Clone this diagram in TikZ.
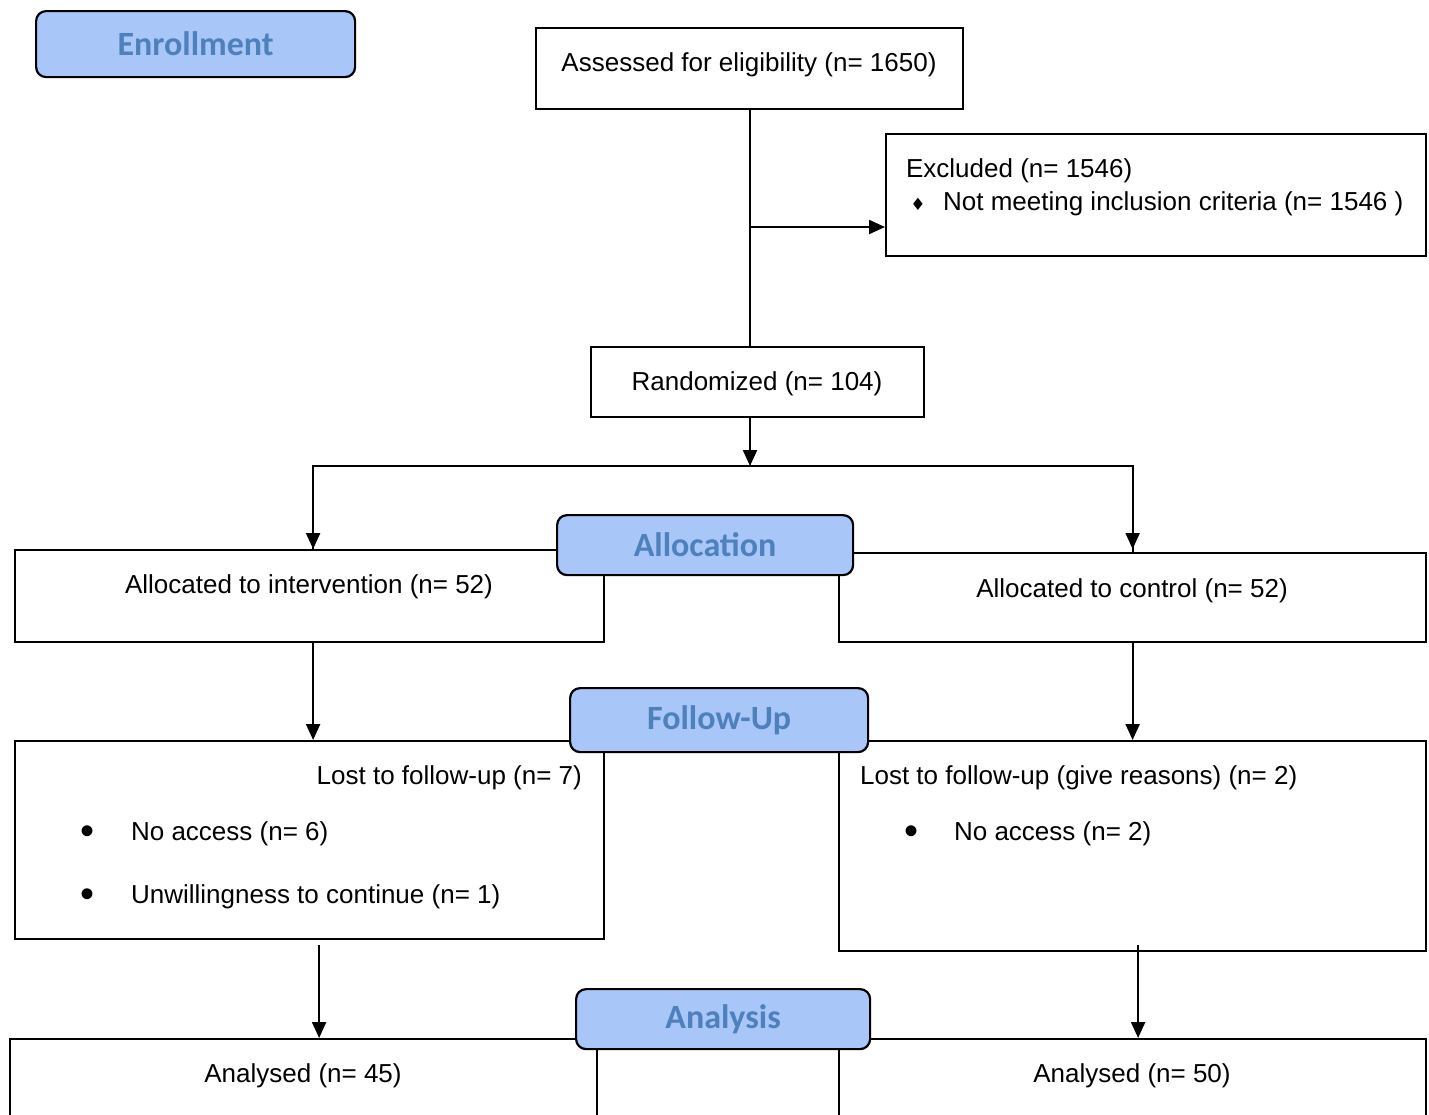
\documentclass[tikz,border=0pt]{standalone}
\usepackage{fontspec}
\setmainfont{Liberation Sans}
\newfontfamily\labelfont{Carlito}
\newfontfamily\symfont{DejaVu Sans}
\usetikzlibrary{arrows.meta}
\definecolor{lblfill}{HTML}{A8C6F8}
\definecolor{lbltext}{HTML}{4E80BC}
\newcommand{\lowered}[1]{\raisebox{-2pt}{#1}}
\begin{document}
\begin{tikzpicture}[x=1pt,y=-1pt,line width=2.2pt,
  box/.style={draw,rectangle,anchor=north west,inner sep=0pt},
  stage/.style={draw,fill=lblfill,rounded corners=10pt,anchor=north west,inner sep=0pt,
    text=lbltext,font=\labelfont\bfseries\fontsize{34}{40}\selectfont},
  txt/.style={font=\fontsize{26}{30}\selectfont,inner sep=0pt},
  bul/.style={font=\fontsize{40}{40}\selectfont,inner sep=0pt},
  arr/.style={-{Triangle[length=16pt,width=14pt]}}]
\useasboundingbox (0,0) rectangle (1429,1114);
\clip (0,0) rectangle (1429,1114);
% boxes
\node[box,minimum width=427pt,minimum height=81pt] (assess) at (535,27) {};
\node[box,minimum width=540pt,minimum height=122pt] (excl) at (885,133) {};
\node[box,minimum width=333pt,minimum height=70pt] (rand) at (590,346) {};
\node[box,minimum width=589pt,minimum height=92pt] (allocI) at (14,549) {};
\node[box,minimum width=587pt,minimum height=89pt] (allocC) at (838,552) {};
\node[box,minimum width=589pt,minimum height=198pt] (lostI) at (14,740) {};
\node[box,minimum width=587pt,minimum height=210pt] (lostC) at (838,740) {};
\node[box,minimum width=587pt,minimum height=120pt] (anaI) at (9,1038) {};
\node[box,minimum width=587pt,minimum height=120pt] (anaC) at (838,1038) {};
% texts
\node[txt] (tassess) at (749,65) {Assessed for eligibility (n= 1650)};
\node[txt,anchor=west] (texcl) at (905,171) {Excluded (n= 1546)};
\node[inner sep=0pt] (dexcl) at (918,204) {\symfont\fontsize{17}{17}\selectfont ♦};
\node[txt,anchor=west] (texcl2) at (942,204) {Not meeting inclusion criteria (n= 1546 )};
\node[txt] (trand) at (757,384) {Randomized (n= 104)};
\node[txt] (tallocI) at (309,587) {Allocated to intervention (n= 52)};
\node[txt] (tallocC) at (1132,591) {Allocated to control (n= 52)};
\node[txt,anchor=east] (tlostI) at (583,778) {Lost to follow-up (n= 7)};
\node[bul] (b1) at (88,835) {•};
\node[txt,anchor=west] (tb1) at (130,834) {No access (n= 6)};
\node[bul] (b2) at (88,898) {•};
\node[txt,anchor=west] (tb2) at (130,897) {Unwillingness to continue (n= 1)};
\node[txt,anchor=west] (tlostC) at (859,778) {Lost to follow-up (give reasons) (n= 2)};
\node[bul] (b3) at (911,835) {•};
\node[txt,anchor=west] (tb3) at (953,834) {No access (n= 2)};
\node[txt] (tanaI) at (303,1076) {Analysed (n= 45)};
\node[txt] (tanaC) at (1132,1076) {Analysed (n= 50)};
% connectors
\coordinate (br) at (750,227);
\coordinate (split) at (750,466);
\draw (assess.south -| br) -- (br |- rand.north);
\draw[arr] (br) -- (br -| excl.west);
\draw[arr] (br |- rand.south) -- (split);
\draw (split) -| ([xshift=3.5pt]allocI.north);
\draw (split) -| (allocC.north);
\draw[arr] ([xshift=3.5pt]allocI.north |- split) -- ([xshift=3.5pt]allocI.north);
\draw[arr] (allocC.north |- split) -- ([yshift=3pt]allocC.north);
\draw[arr] ([xshift=3.5pt]allocI.south) -- ([xshift=3.5pt]lostI.north);
\draw[arr] (allocC.south) -- (lostC.north);
\draw[arr] ([xshift=9.5pt,yshift=-5pt]lostI.south) -- ([xshift=15.5pt]anaI.north);
\draw[arr] ([xshift=5.5pt,yshift=7pt]lostC.south) -- ([xshift=5.5pt]anaC.north);
% stage labels
\node[stage,minimum width=319pt,minimum height=66pt] (enr) at (35,10) {Enrollment};
\node[stage,minimum width=296pt,minimum height=60pt] (alloc) at (556,514) {\lowered{Allocation}};
\node[stage,minimum width=298pt,minimum height=64pt] (fol) at (569,687) {\lowered{Follow-Up}};
\node[stage,minimum width=294pt,minimum height=60pt] (ana) at (575,988) {\lowered{Analysis}};
\end{tikzpicture}
\end{document}
